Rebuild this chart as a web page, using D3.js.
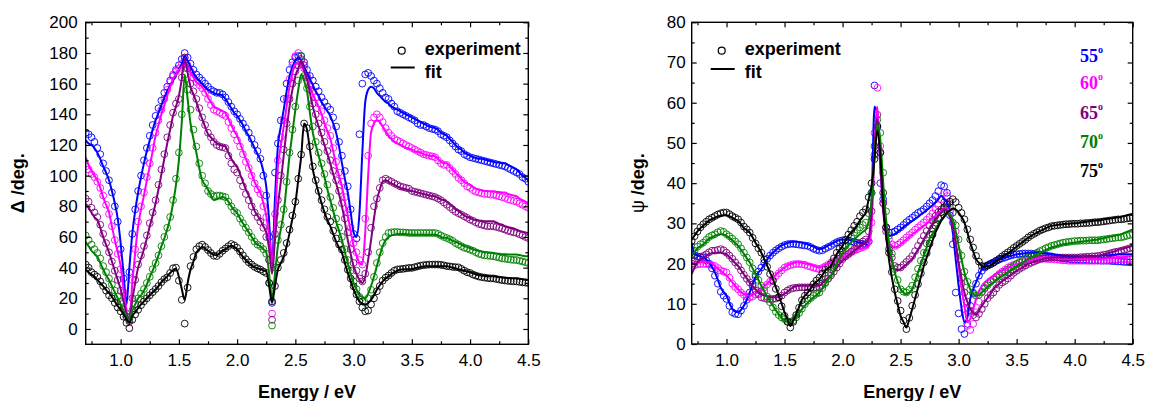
<!DOCTYPE html>
<html><head><meta charset="utf-8">
<script src="https://cdn.jsdelivr.net/npm/d3@7"></script>
<style>
body{margin:0;background:#fff;}
svg text{font-family:"Liberation Sans",Arial,sans-serif;}
svg text.angle{font-family:"Liberation Serif","Times New Roman",serif;}
</style></head><body>
<svg id="chart" width="1149" height="401"></svg>
<script>
// Spectroscopic ellipsometry: Delta and Psi vs photon energy at five incidence angles
const energyStart = 0.7, energyStep = 0.025, energyCount = 153;
const energy = d3.range(energyCount).map(i => +(energyStart + i * energyStep).toFixed(3));

const angles = ["55", "60", "65", "70", "75"];
const angleColors = ["#0000ff", "#ff00ff", "#800080", "#008000", "#000000"];
const xMajorTicks = [1.0, 1.5, 2.0, 2.5, 3.0, 3.5, 4.0, 4.5];
const xMinorTicks = [0.75, 1.25, 1.75, 2.25, 2.75, 3.25, 3.75, 4.25];
const deltaTicks = [0, 20, 40, 60, 80, 100, 120, 140, 160, 180, 200];
const deltaMinor = [10, 30, 50, 70, 90, 110, 130, 150, 170, 190];
const psiTicks = [0, 10, 20, 30, 40, 50, 60, 70, 80];
const psiMinor = [5, 15, 25, 35, 45, 55, 65, 75];

// ---- Delta (deg), rows of 0.1 eV starting at 0.70 eV ----
const deltaExp55 = [
128,127,125,122, 118,114,108,103, 97,89,80,70, 52,33,8,37, 62,78,90,100,
110,118,126,133, 139,144,149,154, 158,162,165,169, 172,176,180,177, 173,169,166,164,
162,160,158,156, 155,154,154,153, 151,148,145,142, 140,137,134,131, 128,124,120,116,
111,100,87,60, 17,102,121,136, 150,160,169,174, 177,178,178,174, 169,165,162,158,
155,151,148,145, 143,138,132,122, 113,103,93,78, 62,59,127,160, 166,167,165,162,
160,157,154,151, 150,147,145,142, 141,140,139,138, 137,136,134,133, 133,132,131,130.5,
130,129,127,126, 125,123,121,119, 117,116,114,113, 112,111.5,111,110.5, 110,109.5,109,108.5,
108,107.5,107,106.5, 106,105,104,103, 102,101,99,98, 96];
const deltaFit55 = [
123,121,120,118, 115,111,106,102, 97,90,82,72, 56,36,16,40, 62,77,89,99,
108,116,123,130, 136,141,146,151, 155,159,162,166, 169,173,178,175, 171,167,164,162,
160,158,156,155, 154,153,153,152, 150,147,144,141, 139,136,133,129, 126,122,118,114,
110,103,93,70, 42,85,119,132, 143,155,165,171, 175,177,175,171, 167,163,159,155,
152,148,145,142, 139,134,128,119, 108,98,89,76, 63,60,75,115, 148,156,158,157,
154,152,150,148, 147,145,144,143, 142,141,140,139, 138,137,136,135, 134,133,132,131.5,
131,130,128,127, 126,124,122,120, 118,117,115,114, 113,112,111.5,111, 111,110.5,110,109.5,
109,108.5,108.5,108, 108,107,106,105, 104,102,100,98.5, 97];
const deltaExp60 = [
106,104,101,99, 96,92,87,81, 75,67,58,49, 39,24,10,5, 32,52,70,80,
89,99,108,118, 128,136,143,150, 156,161,166,168, 170,173,177,172, 168,164,161,159,
157,154,150,146, 143,142,141,140, 139,135,131,127, 123,119,114,109, 105,100,95,91,
88,80,73,45, 10,75,110,125, 136,150,163,172, 178,180,175,170, 164,159,155,151,
147,142,136,131, 126,118,109,102, 96,86,76,66, 56,50,45,42, 72,113,134,138,
140,138,135,131, 128,126,124,123, 122,121,120,119, 118,117,116,115, 114,113.5,113,112.5,
112,110,108,107, 107,105,103,101, 98.5,97,95,93, 92,90.5,89.5,89, 88.5,88,88,87.6,
87.6,87,86.5,86, 85.4,84.5,84,83.5, 83,82,81,80, 79];
const deltaFit60 = [
112,107,103,100, 97,92,86,81, 76,67,58,50, 41,26,12,6, 30,50,67,78,
87,97,106,116, 126,133,140,146, 152,158,163,166, 169,171,173.5,171, 167,164,161,159.5,
158,155,151,148, 145,144,143,142, 141,137,133,129, 126,121,116,111, 106,101,96,92,
89,82,74,60, 43,70,106,119, 132,145,158,167, 173,173,172,168, 163,158,153,149,
145,140,134,129, 124,116,107,100, 93,83,74,64, 54,48,43,42, 63,100,128,134,
136,135,132,129, 126,124,122,121, 120,119,118,117.5, 117,116,115.5,115, 114,113.5,113,112.8,
112.6,111,109,108, 108,106,104,102, 100,98,96,95, 94,92.5,91.5,91, 90.5,90,90,89.8,
89.8,89.5,89.3,89, 89,88,87.5,87, 86.5,85,84,83, 82];
const deltaExp65 = [
85,83,79,76, 73,68,62,56, 50,44,38,32, 25,17,8,5, 20,32,42,48,
54,61,69,76, 84,94,104,114, 125,133,141,147, 150,164,177,170, 160,155,150,144,
138,133,128,125, 122,120,119,118.5, 118,113,108,104, 102,97,93,88, 84,80,76,73,
70,66,60,45, 6,62,84,100, 117,134,150,160, 168,172,176,172, 165,156,147,140,
134,128,122,116, 110,103,97,90, 82,72,63,52, 43,38,33,31, 36,50,66,80,
85,92,97,98, 97,96,95,94, 93,92.5,92,91.5, 90,89.5,89,88.5, 88,87.5,87,86.5,
86,85,84,82.5, 81,79.5,78,76.5, 75.5,74.5,73.5,72.5, 71.3,70.5,69.5,68.5, 68,67.5,67,67,
67,66.5,66,65.5, 64.8,64,63.5,63, 62.6,61.8,61,60, 59.3];
const deltaFit65 = [
81,79,76,73, 71,66,60,55, 50,44,38,32, 26,18,10,6, 19,30,40,46,
52,59,67,74, 82,91,101,111, 121,130,139,145, 152,163,176,167, 158,153,148,142,
137,132,127,125, 123,121,120,119.5, 119,115,111,108, 106,101,96,91, 87,82,77,74,
71,67,63,52, 36,58,80,96, 113,130,145,156, 165,170,175,169, 163,154,145,138,
132,126,120,114, 108,101,95,88, 80,70,58,49, 41,36,32,30, 34,45,58,72,
84,91,96,97, 96,95,94,93, 92,91.5,91,90.5, 90,89.5,89,88.5, 88,87.5,87,86.8,
86.5,85.5,84.5,84, 83,81.5,80,78, 77,75.5,74,73, 72.4,71.5,71,70.7, 70.5,70.3,70.2,70.2,
70.2,69.5,68.5,68, 67,66.5,66,65.5, 64.8,64,63.5,63, 62.6];
const deltaExp70 = [
61,58,55,52, 49.6,46,41,37, 33,29,25,21, 18,13,8,6, 12,16,20,23,
26,30,34,39, 43,48,54,60, 66,73,84,98, 115,140,166,156, 143,130,119,108,
100,95,90,88, 86.5,87,87,86.5, 86,83,80,77, 75.6,72,69,66, 63,60,57,55,
54,52,49,30, 2.2,40,58,68, 78,96,115,130, 145,162,178,165, 157,145,132,122,
115,108,101,94, 86,79,72,66, 60,52,45,38, 31,26,21,18, 17,20,25.6,34,
43,50,56,60, 62.6,63,63.2,63.2, 63,63,62.8,62.6, 62.6,62.6,62.6,62.6, 62.6,62.6,62.6,62.6,
62.6,62,61,60, 59.3,58.5,57.5,56, 55,54,53,52.5, 51.7,51,50,49, 48.5,48,47.8,47.6,
47.4,47,46.5,46, 45.8,45.5,45.2,45, 45,44.5,44,43.5, 43];
const deltaFit70 = [
56,54,51,49, 47,43,39,35, 32,28,24,20, 16,12,8,6, 12,16,20,22,
25,29,34,38, 43,48,54,59, 65,72,82,94, 110,135,166,150, 134,124,115,105,
97,94,90.9,87, 84,84.5,85.5,86, 85.4,83,80,77.5, 75.6,72,69,66, 63,60,57,55,
54,52,50,36, 20,36,54,65, 76,94,113,128, 143,156,166,162, 155,141,128,120,
113,106,99,91, 84,77,70,64, 58,50,43,36, 30,26,22,21, 20,23,28,34,
41,48,54,58, 60,61,61.5,62, 62,62,61.8,61.6, 61.5,61.5,61.5,61.5, 61.5,61.5,61.5,61.5,
61.5,61,60,59.5, 59.3,58.5,57.5,56.8, 56,55,54,53.5, 52.8,52,51.5,51, 50.5,50.2,50,49.8,
49.6,49.3,49,48.8, 48.7,48.6,48.5,48.5, 48.5,48.2,47.8,47.5, 47.4];
const deltaExp75 = [
42,40,37,35.5, 34,31,28,25, 22,20,17,14, 11.5,8,4,0.5, 6,9.5,12.5,15.5,
18,20,22,24, 26,28,30.5,32.5, 33.7,36.5,39.6,40, 31.5,19,3.5,27, 41,47,52,54,
55,53.5,51.5,49.5, 47.8,47.5,49,51, 52.5,54,55.4,54.5, 53,50.5,48,45.5, 43.5,42,40.5,39.5,
38.7,37.5,36.5,30, 18,28,40,45, 49.6,56,64.8,74, 83,98,113.7,134, 131,119,106,97,
90,84,78,73, 70,64,59,55, 51.7,45,38.7,33, 27.8,22.5,18,14, 11.5,12,16,20,
24.6,28,31.5,33.5, 34.8,36.5,38,38.8, 39,39.2,39.5,39.8, 39.8,40.3,40.8,41.3, 41.6,41.8,42,42,
42,42,41.8,41.5, 41,40.8,40.5,40.3, 40.2,39.2,38,37, 36.5,35.5,34.8,34.2, 33.8,33.5,33.2,33,
33,32.6,32.2,31.9, 31.6,31.4,31.2,31, 31,30.7,30.4,30.2, 30];
const deltaFit75 = [
38.7,37,35.5,34, 32,30,28,25.5, 23.5,21,18,15, 12.6,9.5,6.5,4, 8.3,11,13.5,16,
18,20,22,24, 25.6,28,30.5,32.5, 34.3,36.5,38.3,39.5, 34,26,19,30, 38.7,44,49.6,52,
53.5,52.5,51,49.5, 48.5,48,49.5,51, 52,53.5,54.3,53.5, 52,49.5,47,45, 43,41.5,40.3,39.5,
39,38.2,37.6,28, 17,28,38.7,43, 47,54,62.6,72, 82,97,112.6,134, 130,117,104,96,
88.7,82,76,71, 67,62,57,53, 49.6,43,36.5,31, 25.6,21.5,18,16.5, 15.9,17,19,22,
25.6,28.5,31,33, 34.3,35.8,37,38, 38.7,38.8,38.9,39, 39,39.5,40,40.5, 40.8,40.9,40.9,40.9,
40.9,40.9,40.9,40.9, 40.9,40.5,40,39.5, 39,38.5,38,37.5, 37,36.3,35.7,35.2, 34.8,34.6,34.4,34.3,
34.3,34,33.8,33.6, 33.4,33.2,33.1,33, 33,32.8,32.5,32.2, 32];

// ---- Psi (deg), rows of 0.1 eV starting at 0.70 eV ----
const psiExp55 = [
22.3,22,21.8,21.6, 21.5,20.8,20,18.8, 17,15,13,12, 11.2,9.5,7.9,7.5, 7.4,8.3,9.5,11,
12.8,14.8,16.8,18, 19,20.2,21.2,22, 22.7,23.3,23.8,24.2, 24.6,24.8,24.9,24.9, 24.8,24.7,24.6,24.5,
24.4,24.1,23.7,23.4, 23.2,23.3,23.7,24.1, 24.4,24.9,25.3,25.6, 25.8,25.8,25.7,25.5, 25.3,25.2,25,24.9,
24.8,25.5,37.6,64.3, 54,40,36,29, 27.7,27.7,28,28.5, 29,29.6,30.3,30.9, 31.4,32,32.6,33,
33.5,34.2,35,35.8, 36.8,38,39.5,39.2, 37.6,32,24.8,12.8, 7.6,3.7,2.5,5, 9.5,12.5,15,17,
18.2,19,19.6,20, 20.3,20.7,21,21.3, 21.5,21.8,22,22.2, 22.3,22.4,22.5,22.5, 22.5,22.5,22.4,22.3,
22.3,22.1,22,21.9, 21.8,21.6,21.5,21.4, 21.3,21.2,21.1,21, 21,21,20.9,20.9, 20.9,20.8,20.8,20.8,
20.8,20.7,20.7,20.7, 20.7,20.6,20.6,20.5, 20.5,20.4,20.4,20.3, 20.3];
const psiFit55 = [
25,22.5,22,21.8, 21.5,21,20.3,19.2, 17.8,16,14,12.8, 12,10.2,8.7,8.1, 7.9,8.5,9.5,11,
12.8,14.8,16.6,17.8, 18.6,19.9,21,22, 22.7,23.4,24,24.5, 24.8,25.1,25.3,25.4, 25.4,25.3,25.2,25,
24.8,24.5,24.2,23.8, 23.6,23.7,24.1,24.5, 24.8,25.2,25.6,25.9, 26,26,25.9,25.8, 25.6,25.4,25.2,25,
24.8,24.4,34.3,59, 57,44.3,34.3,29, 26.9,27.1,27.3,27.9, 28.5,29.1,29.6,30.1, 30.6,31.1,31.6,32.2,
32.7,33.3,33.9,34.5, 35.2,36,36.8,36, 35.2,32,27.7,21, 14.5,9,5.4,6.5, 11.2,13.5,15.3,17,
18.6,19.3,19.9,20.3, 20.7,21,21.2,21.4, 21.5,21.7,21.9,22.1, 22.3,22.4,22.5,22.6, 22.7,22.7,22.7,22.7,
22.7,22.6,22.5,22.4, 22.3,22.2,22.1,22, 21.9,21.9,21.8,21.8, 21.8,21.8,21.8,21.8, 21.8,21.9,21.9,21.9,
21.9,22,22,22.1, 22.1,22.2,22.2,22.3, 22.3,22.3,22.3,22.3, 22.3];
const psiExp60 = [
19.4,19.6,19.8,19.9, 19.9,19.9,19.8,19.6, 19.4,18.9,18.3,18, 17.8,16.5,15,14.2, 13.6,12.8,12.2,11.8,
11.6,11.8,12.3,12.7, 13.2,14,14.8,15.5, 16.1,16.9,17.6,18.3, 19,19.3,19.6,19.8, 19.9,19.9,19.8,19.7,
19.4,19.2,19,18.8, 18.6,18.9,19.3,19.7, 20.3,20.6,20.9,21.2, 21.5,21.9,22.3,22.8, 23.2,23.5,23.8,24.1,
24.4,25.5,30.2,52.5, 63.7,49.2,35,29, 26,24.8,24.4,24.7, 25.2,25.8,26.5,27.1, 27.7,28.4,29,29.6,
30.2,30.9,31.6,32.5, 33.5,34.5,36,37.6, 36.8,35,32.7,28, 22.7,15,8.7,4.5, 3.5,5,7.9,10.5,
12.8,14,15,15.6, 16.1,16.8,17.4,18, 18.5,19,19.4,19.7, 19.9,20.2,20.4,20.6, 20.7,20.9,21,21.1,
21.2,21.2,21.2,21.1, 21.1,21,21,20.9, 20.8,20.8,20.7,20.7, 20.7,20.7,20.7,20.7, 20.7,20.7,20.7,20.7,
20.7,20.8,20.8,20.8, 20.9,20.9,21,21, 21.1,21.1,21.1,21.1, 21.1];
const psiFit60 = [
19.9,20,20.2,20.3, 20.3,20.3,20.3,20.1, 19.4,18.8,18.2,17.6, 17,16.2,15.3,14.4, 13.6,12.9,12.4,12.1,
12,12.2,12.6,13, 13.6,14.3,15,15.8, 16.5,17.2,17.9,18.5, 19,19.5,19.9,20.1, 20.3,20.3,20.2,20.1,
19.9,19.7,19.4,19.2, 19,19.3,19.7,20, 20.3,20.6,20.9,21.2, 21.5,21.9,22.3,22.8, 23.2,23.4,23.6,23.8,
24,24.5,29.4,48.4, 59,44.3,32.7,28, 25.2,24.4,24,24.3, 24.8,25.4,26,26.7, 27.3,27.8,28.4,28.9,
29.4,30,30.6,31.2, 31.8,32.5,33.2,33.9, 33.9,32,29.4,25, 19.4,14,9.5,5.5, 6.2,8.5,11.2,13,
14.5,15.3,16,16.5, 17,17.5,18,18.3, 18.6,19,19.3,19.6, 19.9,20.1,20.3,20.5, 20.7,20.9,21.1,21.3,
21.5,21.5,21.5,21.5, 21.5,21.4,21.3,21.2, 21.1,21.1,21.1,21.1, 21.1,21.1,21.1,21.1, 21.1,21.1,21.1,21.1,
21.1,21.2,21.2,21.3, 21.3,21.4,21.4,21.5, 21.5,21.6,21.7,21.8, 21.9];
const psiExp65 = [
20,20.8,21.4,21.7, 21.9,22.3,22.8,23.2, 23.2,23.4,23.6,23.3, 22.7,22,21.2,20.3, 19.4,18.3,17.2,16.2,
15.3,14.3,13.3,12.4, 11.6,11.4,11.2,11.2, 11.2,11.3,11.6,12, 12.8,13.3,13.7,13.9, 14,14.1,14.1,14.1,
14.1,14.1,14,14, 14,14.6,15.3,16.2, 17,18,19,20, 21.1,21.8,22.4,23, 23.6,24.3,25,25.5,
26,28,33,49.2, 57,47.6,35,28, 23.6,21.5,19.4,19, 19,19.7,20.4,21.1, 21.9,23.1,24.4,25.6,
26.9,28.1,29.4,30.6, 31.8,32.8,33.5,35.2, 34.8,33,30.2,26, 21.1,16.5,12.8,10.5, 8.3,7.2,6.6,7.5,
8.7,10,11.4,12.2, 12.8,13.8,14.7,15.3, 15.7,16.3,17,17.7, 18.2,18.7,19.1,19.5, 19.9,20.2,20.5,20.8,
21.1,21.3,21.4,21.5, 21.5,21.5,21.5,21.5, 21.5,21.5,21.5,21.5, 21.5,21.5,21.6,21.6, 21.7,21.7,21.8,21.8,
21.9,22,22.2,22.3, 22.5,22.7,22.9,23, 23.2,23.4,23.6,23.8, 24];
const psiFit65 = [
17.4,19,20.2,21, 21.5,22,22.4,22.6, 22.7,22.7,22.7,22.5, 22.3,21.6,20.9,20.1, 19.4,18.4,17.3,16.3,
15.3,14.4,13.6,12.9, 12.4,12.1,11.9,11.7, 11.6,11.6,11.7,12.1, 12.5,13,13.6,14.1, 14.4,14.5,14.5,14.5,
14.5,14.5,14.5,14.5, 14.5,15.1,15.8,16.4, 17,18,19,19.9, 20.7,21.4,22,22.6, 23.2,23.7,24.2,24.7,
25.2,26.5,32.7,48.4, 56.2,46,34.3,27, 22.7,20.6,18.6,18.4, 18.6,19.2,19.8,20.5, 21.1,22.3,23.5,24.7,
26,27.3,28.6,29.8, 31,31.9,32.7,33.5, 33,31.5,29.4,25, 20.3,16.3,12.8,10.5, 8.7,7.8,7.4,8.3,
9.5,10.5,11.5,12.5, 13.6,14.3,15,15.6, 16.1,16.6,17.2,17.7, 18.2,18.6,19,19.5, 19.9,20.2,20.5,20.7,
20.9,21.1,21.3,21.4, 21.5,21.5,21.5,21.5, 21.5,21.5,21.5,21.5, 21.5,21.6,21.6,21.7, 21.7,21.8,21.8,21.9,
21.9,22.1,22.3,22.5, 22.7,22.9,23.1,23.4, 23.6,23.8,24,24.2, 24.4];
const psiExp70 = [
22.3,23.2,24.2,24.8, 25.2,25.9,26.6,27, 27.3,27.8,28.1,27.9, 27.3,26.8,26.2,25.5, 24.8,23.8,22.7,21.5,
20.3,18.8,17.3,15.9, 14.5,13.1,11.8,10.4, 9.1,8,7.2,6.6, 6.2,5.7,5.4,5.8, 6.6,7.7,8.8,9.9,
10.8,11.4,12,12.5, 12.8,13.9,15.1,16.3, 17.4,18.9,20.4,21.8, 23.2,24.4,25.6,26.7, 27.7,28.4,29,29.6,
30.2,32.5,37.6,47, 55.8,52.5,42.6,33, 26.9,22.5,18.6,15.9, 13.6,13,12.8,13.5, 14.5,16.6,18.7,20.7,
22.7,25,27.2,28.8, 30.2,31.5,32.8,33.6, 34.3,34,32.7,29.5, 26,22,18,15.5, 13.6,12.8,12,12.2,
13,13.8,14.6,15.4, 16.1,16.6,17.1,17.6, 18,18.5,19,19.4, 19.9,20.4,20.8,21.2, 21.5,21.9,22.3,22.7,
23.1,23.4,23.8,24.1, 24.4,24.6,24.8,25, 25.2,25.3,25.4,25.5, 25.6,25.6,25.7,25.7, 25.7,25.8,25.8,25.8,
25.8,25.9,26,26.1, 26.2,26.3,26.4,26.5, 26.5,26.7,26.9,27.1, 27.3];
const psiFit70 = [
21.9,22.8,23.8,24.3, 24.8,25.5,26.2,26.6, 26.9,27.1,27.3,27.2, 26.9,26.4,25.8,25.1, 24.4,23.4,22.4,21.3,
20.3,18.8,17.3,15.9, 14.5,13.1,11.8,10.6, 9.5,8.4,7.4,6.5, 5.8,5.6,5.5,5.9, 6.6,7.6,8.6,9.5,
10.3,11,11.6,12.2, 12.8,13.8,14.9,16, 17,18.4,19.9,21.3, 22.7,23.6,24.5,25.3, 26,26.7,27.3,27.9,
28.5,30.5,36,46.7, 54.6,50.9,40.1,31, 25.2,21.2,17.8,15.5, 13.6,12.8,12.4,12.8, 13.6,15.6,17.8,19.9,
21.9,24,26.2,27.4, 28.5,29.6,30.7,31.5, 32.3,32.1,31,28, 24.4,21,17.8,15.5, 13.6,12.6,12,12.2,
12.8,13.5,14.2,14.8, 15.3,15.9,16.5,17, 17.4,17.9,18.4,18.9, 19.4,19.8,20.3,20.7, 21.1,21.5,21.9,22.3,
22.7,23,23.4,23.7, 24,24.2,24.4,24.6, 24.8,24.9,25,25.1, 25.2,25.3,25.4,25.5, 25.6,25.7,25.8,25.9,
26,26.2,26.3,26.5, 26.7,26.8,27,27.1, 27.3,27.6,27.9,28.2, 28.5];
const psiExp75 = [
25.6,26.8,28,29, 29.8,30.4,31,31.4, 31.8,32.2,32.5,32.7, 32.7,32.3,31.8,31.4, 31,30.2,29.2,28.5,
27.7,26.4,25,23.8, 22.7,21,19.2,17.4, 15.7,13.7,11.6,9.4, 7,5.5,4.1,5.5, 7.2,9,10.9,12,
12.8,13.9,14.9,15.8, 16.5,17.5,18.5,19.2, 19.9,21.3,22.7,23.7, 24.4,25.9,27.2,28.3, 29.4,30.4,31.8,32.7,
33.5,36.5,40,46, 54.2,47.6,37.6,29, 22.7,17.9,13.6,10.7, 8.3,5.8,3.7,6.5, 9.5,12.2,14.9,17.6,
20.3,22.6,25,27.2, 29.4,31.2,32.8,34, 34.7,35.4,36,35.3, 33.9,32.6,31,28.5, 26,24,21.9,20.5,
19.4,19.3,19.5,19.8, 20.2,20.7,21.2,21.8, 22.3,22.8,23.3,23.9, 24.4,24.9,25.4,25.9, 26.5,27,27.4,27.8,
28.2,28.5,28.8,29, 29.3,29.4,29.5,29.6, 29.7,29.8,29.8,29.9, 29.9,29.9,30,30, 30.1,30.1,30.2,30.3,
30.3,30.4,30.5,30.6, 30.7,30.8,30.9,31, 31,31.1,31.2,31.3, 31.4];
const psiFit75 = [
26,27,28,28.8, 29.4,30.1,30.7,31.1, 31.4,31.7,31.9,32, 32,31.8,31.4,31, 30.6,29.8,28.8,28.3,
27.7,26.5,25.2,24, 22.7,21.1,19.5,17.8, 16.1,14.1,12.1,10, 7.9,6.1,4.5,5.8, 7.4,9.2,11,12,
12.8,13.8,14.8,15.5, 16.1,17.1,18.2,18.8, 19.4,20.9,22.4,23.4, 24.4,25.7,26.9,27.7, 28.5,29.6,30.7,31.7,
32.7,36,39.3,46, 53,47,34.3,27, 21,16.5,12.8,9.8, 7,5.5,4.1,6.2, 8.7,11.3,14,16.7,
19.4,21.5,23.6,25.7, 27.7,29.2,30.7,31.7, 32.7,33.2,33.7,33.4, 32.7,31.6,30.2,27.8, 25.2,23.1,21.1,20.2,
19.4,19.2,19.3,19.6, 20.1,20.6,21.1,21.6, 22.1,22.6,23.1,23.7, 24.2,24.8,25.3,25.9, 26.4,26.9,27.3,27.7,
28.1,28.4,28.8,29.1, 29.4,29.5,29.6,29.7, 29.8,29.9,29.9,30, 30,30.1,30.2,30.3, 30.4,30.5,30.6,30.7,
30.7,30.8,31,31.1, 31.2,31.3,31.4,31.5, 31.6,31.8,32,32.2, 32.3];

const deltaExp = [deltaExp55, deltaExp60, deltaExp65, deltaExp70, deltaExp75];
const deltaFit = [deltaFit55, deltaFit60, deltaFit65, deltaFit70, deltaFit75];
const psiExp = [psiExp55, psiExp60, psiExp65, psiExp70, psiExp75];
const psiFit = [psiFit55, psiFit60, psiFit65, psiFit70, psiFit75];

const svg = d3.select("#chart");
const tickFont = "17px";

function drawPanel(cfg) {
  const g = svg.append("g");
  const x = d3.scaleLinear().domain([0.7, 4.5]).range([cfg.left, cfg.right]);
  const y = d3.scaleLinear().domain(cfg.yDomain).range([cfg.bottom, cfg.top]);

  const clipId = "clip-" + cfg.id;
  svg.append("defs").append("clipPath").attr("id", clipId)
    .append("rect").attr("x", cfg.left).attr("y", cfg.top)
    .attr("width", cfg.right - cfg.left).attr("height", cfg.bottom - cfg.top);

  const plot = g.append("g").attr("clip-path", `url(#${clipId})`);
  const line = d3.line().x(d => x(d[0])).y(d => y(d[1])).curve(d3.curveMonotoneX);

  cfg.exp.forEach((vals, i) => {
    const pts = vals.map((v, j) => [energy[j], v]);
    plot.append("g").selectAll("circle").data(pts).join("circle")
      .attr("cx", d => x(d[0])).attr("cy", d => y(d[1])).attr("r", 3.4)
      .attr("fill", "none").attr("stroke", angleColors[i]).attr("stroke-width", 0.9);
  });
  cfg.fit.forEach((vals, i) => {
    const pts = vals.map((v, j) => [energy[j], v]);
    plot.append("path").datum(pts).attr("d", line)
      .attr("fill", "none").attr("stroke", angleColors[i]).attr("stroke-width", 2);
  });

  const styleAxis = sel => {
    sel.select(".domain").remove();
    sel.selectAll("line").attr("stroke", "#000").attr("stroke-width", 1.2);
    sel.selectAll("text").attr("font-size", tickFont).attr("fill", "#000");
  };

  // bottom / top
  g.append("g").attr("transform", `translate(0,${cfg.bottom})`)
    .call(d3.axisBottom(x).tickValues(xMajorTicks).tickSize(-5).tickPadding(10).tickFormat(d3.format(".1f")))
    .call(styleAxis);
  g.append("g").attr("transform", `translate(0,${cfg.bottom})`)
    .call(d3.axisBottom(x).tickValues(xMinorTicks).tickSize(-3).tickFormat(""))
    .call(styleAxis);
  g.append("g").attr("transform", `translate(0,${cfg.top})`)
    .call(d3.axisTop(x).tickValues(xMajorTicks).tickSize(-5).tickFormat(""))
    .call(styleAxis);
  g.append("g").attr("transform", `translate(0,${cfg.top})`)
    .call(d3.axisTop(x).tickValues(xMinorTicks).tickSize(-3).tickFormat(""))
    .call(styleAxis);
  // left / right
  g.append("g").attr("transform", `translate(${cfg.left},0)`)
    .call(d3.axisLeft(y).tickValues(cfg.yTicks).tickSize(-5).tickPadding(cfg.yPad))
    .call(styleAxis);
  g.append("g").attr("transform", `translate(${cfg.left},0)`)
    .call(d3.axisLeft(y).tickValues(cfg.yMinor).tickSize(-3).tickFormat(""))
    .call(styleAxis);
  g.append("g").attr("transform", `translate(${cfg.right},0)`)
    .call(d3.axisRight(y).tickValues(cfg.yTicks).tickSize(-5).tickFormat(""))
    .call(styleAxis);
  g.append("g").attr("transform", `translate(${cfg.right},0)`)
    .call(d3.axisRight(y).tickValues(cfg.yMinor).tickSize(-3).tickFormat(""))
    .call(styleAxis);

  g.append("rect").attr("x", cfg.left).attr("y", cfg.top)
    .attr("width", cfg.right - cfg.left).attr("height", cfg.bottom - cfg.top)
    .attr("fill", "none").attr("stroke", "#000").attr("stroke-width", 1.4);

  g.append("text").attr("x", (cfg.left + cfg.right) / 2).attr("y", 398)
    .attr("text-anchor", "middle").attr("font-size", "18px").attr("font-weight", "bold")
    .text("Energy / eV");

  const yt = g.append("text")
    .attr("transform", `translate(${cfg.yTitleX},${(cfg.top + cfg.bottom) / 2}) rotate(-90)`)
    .attr("text-anchor", "middle").attr("font-size", "18px").attr("font-weight", "bold");
  yt.append("tspan").attr("font-weight", cfg.symbolWeight).text(cfg.symbol);
  yt.append("tspan").text(" /deg.");

  // legend
  const lg = g.append("g");
  lg.append("circle").attr("cx", cfg.legX).attr("cy", 50.7).attr("r", 3.5)
    .attr("fill", "none").attr("stroke", "#000").attr("stroke-width", 1.2);
  lg.append("text").attr("x", cfg.legX + 23).attr("y", 55).attr("font-size", "18px")
    .attr("font-weight", "bold").text("experiment");
  lg.append("line").attr("x1", cfg.legX - 11).attr("x2", cfg.legX + 13)
    .attr("y1", cfg.legLineY).attr("y2", cfg.legLineY).attr("stroke", "#000").attr("stroke-width", 2);
  lg.append("text").attr("x", cfg.legX + 23).attr("y", 78).attr("font-size", "18px")
    .attr("font-weight", "bold").text("fit");
  return { x, y, g };
}

drawPanel({
  id: "delta", left: 85.7, right: 528.3, top: 22.3, bottom: 344.3,
  yDomain: [-10, 200], yTicks: deltaTicks, yMinor: deltaMinor, yPad: 8,
  exp: deltaExp, fit: deltaFit, symbol: "\u0394", symbolWeight: "bold", yTitleX: 24,
  legX: 401.7, legLineY: 67.5
});

drawPanel({
  id: "psi", left: 691.7, right: 1132.7, top: 22.3, bottom: 344,
  yDomain: [0, 80], yTicks: psiTicks, yMinor: psiMinor, yPad: 6,
  exp: psiExp, fit: psiFit, symbol: "\u03c8", symbolWeight: "normal", yTitleX: 644,
  legX: 721.7, legLineY: 69
});

// incidence-angle labels (serif, with a raised degree "o")
const angleBaselines = [61.5, 89, 119, 148, 177];
angles.forEach((a, i) => {
  const t = svg.append("text").attr("class", "angle").attr("x", 1080).attr("y", angleBaselines[i])
    .attr("font-weight", "bold").attr("font-size", "18px").attr("fill", angleColors[i]);
  t.append("tspan").text(a);
  t.append("tspan").attr("font-size", "10px").attr("dy", -9).text("o");
});
</script>
</body></html>
